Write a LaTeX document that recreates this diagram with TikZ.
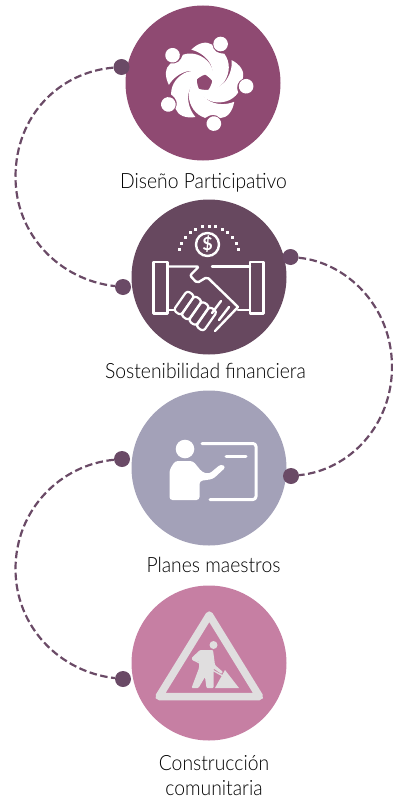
\documentclass[tikz,border=0pt]{standalone}
\usepackage{fontspec}
\setmainfont{Lato}[UprightFont=* Light, FakeStretch=0.92]
\newfontfamily\coinfont{Lato}[UprightFont=* Bold]
\usetikzlibrary{arrows.meta, positioning}
\definecolor{plumA}{HTML}{8F4A72}
\definecolor{plumB}{HTML}{67485F}
\definecolor{greyC}{HTML}{A3A1B8}
\definecolor{pinkD}{HTML}{C67FA3}
\definecolor{dotcol}{HTML}{6A4A66}
\definecolor{signcol}{HTML}{E0DEDF}
\begin{document}
\begin{tikzpicture}[x=1pt, y=-1pt,
    stagecircle/.style={circle, inner sep=0pt, minimum size=155pt},
    stagedot/.style={circle, fill=dotcol, inner sep=0pt, minimum size=16pt},
    stagelabel/.style={font=\fontsize{21}{25}\selectfont, text=black, align=center},
    linkline/.style={dotcol, line width=2.2pt, dash pattern=on 7.5pt off 3.5pt},
    iconline/.style={white, line width=2.4pt, line join=round, line cap=round}]
                  \useasboundingbox (0, 0) rectangle (393, 800);

                  % Circles
                  \node[stagecircle, fill=plumA] (diseno) at (203, 83) {};
                  \node[stagecircle, fill=plumB] (sosten) at (209, 277) {};
                  \node[stagecircle, fill=greyC] (planes) at (209, 468) {};
                  \node[stagecircle, fill=pinkD] (constr) at (209, 663) {};

                  % Labels
                  \node[stagelabel] (lbldiseno) at (203.5, 183) {Diseño Participativo};
                  \node[stagelabel] (lblsosten) at (205.5, 371) {Sostenibilidad financiera};
                  \node[stagelabel] (lblplanes) at (213.5, 565) {Planes maestros};
                  \node[stagelabel] (lblconstr) at (214, 776) {Construcción\\comunitaria};

                  % Dots
                  \node[stagedot] (dotA) at (121.5, 67) {};
                  \node[stagedot] (dotB) at (123, 287) {};
                  \node[stagedot] (dotC) at (290.5, 257) {};
                  \node[stagedot] (dotD) at (291, 476) {};
                  \node[stagedot] (dotE) at (122, 459) {};
                  \node[stagedot] (dotF) at (123, 679) {};

                  % Links
                  \coordinate (bendA) at (15.5, 177);
                  \coordinate (bendB) at (392, 367);
                  \coordinate (bendC) at (15.5, 569);
                  \draw[linkline] (dotA) .. controls (60, 72) and (15.5, 115) .. (bendA)
                      .. controls (15.5, 235) and (60, 280) .. (dotB);
                  \draw[linkline] (dotC) .. controls (345, 262) and (392, 305) .. (bendB)
                      .. controls (392, 425) and (350, 470) .. (dotD);
                  \draw[linkline] (dotE) .. controls (60, 465) and (15.5, 510) .. (bendC)
                      .. controls (15.5, 627) and (60, 672) .. (dotF);

                  % Swirl of people
                  \foreach \ang in {0, 72, 144, 216, 288} {
                      \begin{scope}[shift={(204.3, 82.7)}, rotate=\ang]
                          \fill[white] (16.3, -38.7) circle (7.3);
                          \fill[white] (-13, -33) .. controls (-6, -40) and (2, -42) .. (8, -38)
                              .. controls (9, -32) and (13, -29) .. (20, -29)
                              .. controls (26, -21) and (26, -10) .. (20, -1)
                              .. controls (15, 5) and (8, 9) .. (1, 11)
                              .. controls (9, 3) and (11, -9) .. (6, -19)
                              .. controls (2, -26) and (-5, -31) .. (-13, -33) -- cycle;
                      \end{scope}
                  }

                  % Coin
                  \draw[iconline] (207.5, 244.5) circle (11.5);
                  \node[white, font=\fontsize{18}{18}\selectfont\coinfont] (coin) at (207.5, 244.5) {\$};
                  \foreach \ang in {-12, -25, ..., -168} {
                      \fill[white, shift={(209, 256)}] (\ang:30) ++(-1.5, -1.5) rectangle ++(3, 3);
                  }

                  % Handshake
                  \draw[iconline] (153.5, 262) rectangle (167.5, 313.5);
                  \draw[iconline] (250, 262) rectangle (263.5, 313.5);
                  \draw[iconline, rounded corners=2pt] (167.5, 266.5) -- (199, 266.5) -- (190, 275.5) -- (197, 283) -- (207, 277) -- (238, 307);
                  \draw[iconline] (212, 266.5) -- (250, 266.5);
                  \draw[iconline] (167.5, 310) -- (175, 310);
                  \draw[iconline] (238, 310) -- (250, 310);
                  \foreach \px/\py in {184/303, 191.5/308, 199/313.5, 206.5/319} {
                      \draw[iconline, line width=2.2pt, rotate around={55:(\px, \py)}, rounded corners=3pt]
                          (\px - 12, \py - 4.5) rectangle (\px + 12, \py + 4.5);
                  }
                  \draw[iconline] (221, 301) -- (212, 313);
                  \draw[iconline] (229, 307) -- (219, 320);
                  \draw[iconline] (238, 307) -- (215, 331);

                  % Teacher
                  \fill[white] (185, 449) circle (9.3);
                  \fill[white, rounded corners=3pt] (169.5, 500) -- (169.5, 470) -- (175, 461) -- (193, 461)
                      -- (202, 472) -- (209, 474) -- (221, 464) -- (226, 467) -- (213, 479) -- (199.5, 481)
                      -- (199.5, 500) -- cycle;
                  \draw[iconline, line width=3pt, rounded corners=3pt] (202, 443.5) -- (256, 443.5) -- (256, 499.5) -- (210, 499.5);
                  \draw[iconline, line width=3pt] (226, 456.5) -- (246, 456.5);

                  % Road sign
                  \draw[signcol, line width=7.5pt, line join=round] (209.3, 615) -- (159, 696.5) -- (259.5, 696.5) -- cycle;
                  \fill[signcol] (213.5, 645) circle (4);
                  \fill[signcol, rounded corners=1pt] (191.5, 658) -- (200, 650) -- (213, 650) -- (215, 665)
                      -- (223, 672) -- (221.5, 674) -- (213.5, 668.5) -- (213.5, 688) -- (206.5, 688) -- (205, 677)
                      -- (198.5, 688) -- (191.5, 688) -- (199, 668) -- (199, 661) -- (193, 661) -- cycle;
                  \draw[signcol, line width=1.3pt] (194, 660) -- (223, 676);
                  \fill[signcol] (215, 688) -- (225, 670) -- (239, 688) -- cycle;
              \end{tikzpicture}
\end{document}
